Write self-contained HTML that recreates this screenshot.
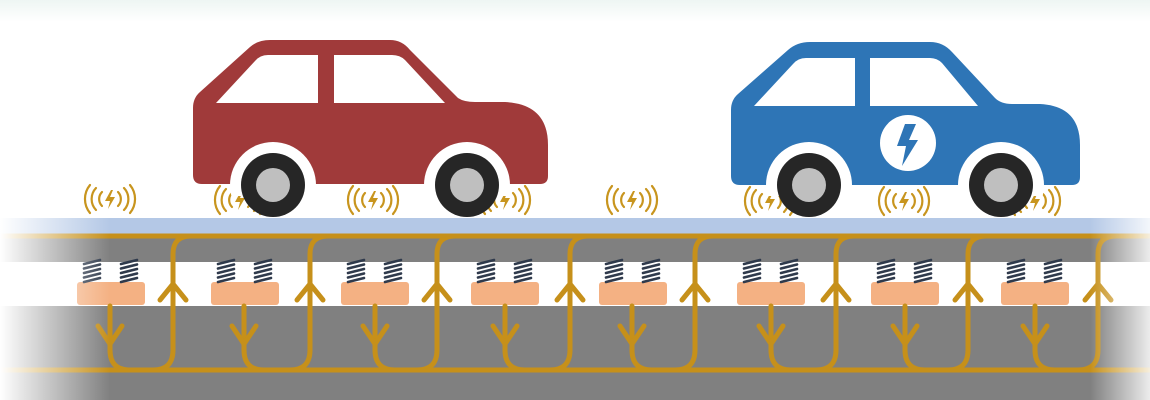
<!DOCTYPE html>
<html><head><meta charset="utf-8"><style>html,body{margin:0;padding:0;background:#fff;}svg{display:block}</style></head>
<body>
<svg width="1150" height="400" viewBox="0 0 1150 400" xmlns="http://www.w3.org/2000/svg">
<defs>
<linearGradient id="tg" x1="0" y1="0" x2="0" y2="1"><stop offset="0" stop-color="#eef6f3"/><stop offset="1" stop-color="#fff"/></linearGradient>
<linearGradient id="lf" x1="0" y1="0" x2="1" y2="0"><stop offset="0" stop-color="#fff" stop-opacity="1"/><stop offset="1" stop-color="#fff" stop-opacity="0"/></linearGradient>
<linearGradient id="rf" x1="0" y1="0" x2="1" y2="0"><stop offset="0" stop-color="#fff" stop-opacity="0"/><stop offset="1" stop-color="#fff" stop-opacity="0.85"/></linearGradient>
<clipPath id="cc"><rect x="0" y="0" width="1150" height="196"/></clipPath>
<g id="ic" fill="none" stroke="#c8951e" stroke-width="2.2" stroke-linecap="round">
<path d="M-8,-7 A10,10 0 0 0 -8,7"/><path d="M-14,-11 A16,16 0 0 0 -14,11"/><path d="M-20,-14 A22,22 0 0 0 -20,14"/>
<path d="M8,-7 A10,10 0 0 1 8,7"/><path d="M14,-11 A16,16 0 0 1 14,11"/><path d="M20,-14 A22,22 0 0 1 20,14"/>
<path d="M1,-9 L-5,2 L0,2 L-2,10 L5,-2 L0,-2 L3,-9 Z" fill="#c8951e" stroke="none"/>
</g>
<g id="sp" stroke="#2f3a4c" stroke-width="2.6" stroke-linecap="round">
<line x1="0" y1="4" x2="16" y2="0"/><line x1="0" y1="8.5" x2="16" y2="4.5"/><line x1="0" y1="13" x2="16" y2="9"/><line x1="0" y1="17.5" x2="16" y2="13.5"/><line x1="0" y1="22" x2="16" y2="18"/>
</g>
</defs>
<rect x="0" y="0" width="1150" height="22" fill="url(#tg)"/>
<rect x="0" y="218" width="1150" height="17" fill="#b4c8e6"/>
<rect x="0" y="235" width="1150" height="27" fill="#808080"/>
<rect x="0" y="306" width="1150" height="94" fill="#808080"/>
<g stroke="#c6901a" stroke-width="5" fill="none">
<line x1="0" y1="236" x2="1150" y2="236"/>
<line x1="0" y1="370" x2="1150" y2="370"/>
</g>
<g fill="#f4b183">
<rect x="77" y="282" width="68" height="23" rx="3"/><rect x="211" y="282" width="68" height="23" rx="3"/><rect x="341" y="282" width="68" height="23" rx="3"/><rect x="471" y="282" width="68" height="23" rx="3"/><rect x="599" y="282" width="68" height="23" rx="3"/><rect x="737" y="282" width="68" height="23" rx="3"/><rect x="871" y="282" width="68" height="23" rx="3"/><rect x="1001" y="282" width="68" height="23" rx="3"/>
</g>
<g>
<use href="#sp" x="84" y="260"/><use href="#sp" x="121" y="260"/>
<use href="#sp" x="218" y="260"/><use href="#sp" x="255" y="260"/>
<use href="#sp" x="348" y="260"/><use href="#sp" x="385" y="260"/>
<use href="#sp" x="478" y="260"/><use href="#sp" x="515" y="260"/>
<use href="#sp" x="606" y="260"/><use href="#sp" x="643" y="260"/>
<use href="#sp" x="744" y="260"/><use href="#sp" x="781" y="260"/>
<use href="#sp" x="878" y="260"/><use href="#sp" x="915" y="260"/>
<use href="#sp" x="1008" y="260"/><use href="#sp" x="1045" y="260"/>
</g>
<g stroke="#c6901a" stroke-width="5" fill="none" stroke-linecap="round" stroke-linejoin="round">
<path d="M110,306 V350 Q110,370 130,370 H153 Q173,370 173,350 V254 Q173,236 191,236"/>
<path d="M244,306 V350 Q244,370 264,370 H290 Q310,370 310,350 V254 Q310,236 328,236"/>
<path d="M375,306 V350 Q375,370 395,370 H417 Q437,370 437,350 V254 Q437,236 455,236"/>
<path d="M505,306 V350 Q505,370 525,370 H550 Q570,370 570,350 V254 Q570,236 588,236"/>
<path d="M632,306 V350 Q632,370 652,370 H675 Q695,370 695,350 V254 Q695,236 713,236"/>
<path d="M771,306 V350 Q771,370 791,370 H816 Q836,370 836,350 V254 Q836,236 854,236"/>
<path d="M905,306 V350 Q905,370 925,370 H948 Q968,370 968,350 V254 Q968,236 986,236"/>
<path d="M1035,306 V350 Q1035,370 1055,370 H1078 Q1098,370 1098,350 V254 Q1098,236 1116,236"/>
<path d="M160,300 L173,284 L186,300"/><path d="M297,300 L310,284 L323,300"/><path d="M424,300 L437,284 L450,300"/><path d="M557,300 L570,284 L583,300"/><path d="M682,300 L695,284 L708,300"/><path d="M823,300 L836,284 L849,300"/><path d="M955,300 L968,284 L981,300"/><path d="M1085,300 L1098,284 L1111,300"/>
<path d="M98,326 L110,344 L122,326"/><path d="M232,326 L244,344 L256,326"/><path d="M363,326 L375,344 L387,326"/><path d="M493,326 L505,344 L517,326"/><path d="M620,326 L632,344 L644,326"/><path d="M759,326 L771,344 L783,326"/><path d="M893,326 L905,344 L917,326"/><path d="M1023,326 L1035,344 L1047,326"/>
</g>
<rect x="0" y="218" width="110" height="182" fill="url(#lf)"/>
<rect x="1090" y="218" width="60" height="182" fill="url(#rf)"/>
<use href="#ic" x="110" y="199"/><use href="#ic" x="240" y="200"/><use href="#ic" x="373" y="200"/><use href="#ic" x="505" y="200"/><use href="#ic" x="632" y="200"/><use href="#ic" x="770" y="201"/><use href="#ic" x="904" y="201"/><use href="#ic" x="1035" y="201"/>
<path d="M202,184 Q193,184 193,175 L193,108 Q193,98 200,92 L250,47 Q258,40 270,40 L390,40 Q402,40 410,50 L458,98 Q464,102 475,102 L505,102 Q548,104 548,145 L548,176 Q548,184 540,184 Z" fill="#a03a3a"/>
<path d="M216,103 L255,61 Q260,55 268,55 L318,55 L318,103 Z M334,55 L392,55 Q400,55 405,60 L445,103 L334,103 Z" fill="#fff"/>
<g clip-path="url(#cc)"><circle cx="273" cy="185" r="43" fill="#fff"/><circle cx="467" cy="185" r="43" fill="#fff"/></g>
<circle cx="273" cy="185" r="32" fill="#262626"/><circle cx="273" cy="185" r="17" fill="#bfbfbf"/>
<circle cx="467" cy="185" r="32" fill="#262626"/><circle cx="467" cy="185" r="17" fill="#bfbfbf"/>
<path d="M740,185 Q731,185 731,176 L731,110 Q731,100 738,94 L788,50 Q797,42 810,42 L930,42 Q943,42 952,52 L995,98 Q1001,104 1012,104 L1040,104 Q1080,106 1080,145 L1080,177 Q1080,185 1072,185 Z" fill="#2e75b6"/>
<path d="M754,106 L793,64 Q798,58 806,58 L855,58 L855,106 Z M870,58 L930,58 Q937,58 942,63 L978,106 L870,106 Z" fill="#fff"/>
<circle cx="908" cy="143" r="28" fill="#fff"/>
<path d="M905,124 L916,124 L909,140 L918,140 L902,166 L906,146 L897,146 Z" fill="#2e75b6"/>
<g clip-path="url(#cc)"><circle cx="809" cy="185" r="43" fill="#fff"/><circle cx="1001" cy="185" r="43" fill="#fff"/></g>
<circle cx="809" cy="185" r="32" fill="#262626"/><circle cx="809" cy="185" r="17" fill="#bfbfbf"/>
<circle cx="1001" cy="185" r="32" fill="#262626"/><circle cx="1001" cy="185" r="17" fill="#bfbfbf"/>
</svg>
</body></html>
